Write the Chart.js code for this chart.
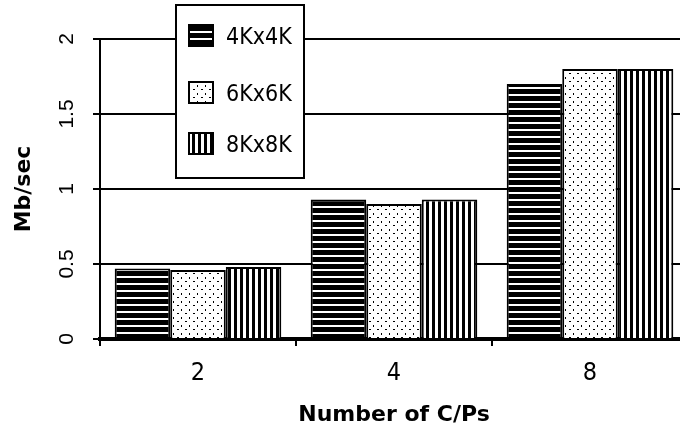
<!DOCTYPE html>
<html>
<head>
<meta charset="utf-8">
<title>Mb/sec by number of C/Ps</title>
<script src="https://cdn.jsdelivr.net/npm/chart.js@4/dist/chart.umd.min.js"></script>
<style>
    html, body { margin: 0; padding: 0; background: #fff; overflow: hidden; }
    #wrap { width: 680px; height: 433px; overflow: hidden; }
</style>
</head>
<body>
<div id="wrap"><canvas id="chart" width="700" height="433"></canvas></div>
<script>
// Data
const categories = ['2', '4', '8'];
const seriesNames = ['4Kx4K', '6Kx6K', '8Kx8K'];
const values4K = [0.47, 0.93, 1.70];
const values6K = [0.46, 0.90, 1.80];
const values8K = [0.48, 0.93, 1.80];
const yTicks = [0, 0.5, 1, 1.5, 2];
const xTitle = 'Number of C/Ps';
const yTitle = 'Mb/sec';

// Fill patterns (black & white hatching)
function makePattern(kind) {
    const c = document.createElement('canvas');
    const ctx = c.getContext('2d');
    if (kind === 'horiz') {
        c.width = 8; c.height = 7;
        ctx.fillStyle = '#000';
        ctx.fillRect(0, 0, 8, 7);
        ctx.fillStyle = '#fff';
        ctx.fillRect(0, 3, 8, 2);
    } else if (kind === 'vert') {
        c.width = 6; c.height = 6;
        ctx.fillStyle = '#000';
        ctx.fillRect(0, 0, 6, 6);
        ctx.fillStyle = '#fff';
        ctx.fillRect(3, 0, 3, 6);
    } else {
        c.width = 8; c.height = 8;
        ctx.fillStyle = '#fff';
        ctx.fillRect(0, 0, 8, 8);
        ctx.fillStyle = '#000';
        ctx.fillRect(1, 1, 2, 1);
        ctx.fillRect(5, 5, 1, 2);
    }
    return document.createElement('canvas').getContext('2d').createPattern(c, 'repeat');
}

const fills = [makePattern('horiz'), makePattern('dots'), makePattern('vert')];
const seriesValues = [values4K, values6K, values8K];

const tickFont = { family: '"Liberation Sans", Arial, sans-serif', size: 21 };
const xTickFont = { family: '"Liberation Sans Narrow", "DejaVu Sans Condensed", "Liberation Sans", sans-serif', size: 25 };
const titleFont = { family: '"DejaVu Sans", sans-serif', size: 22, weight: 'bold' };

// Boxed legend drawn on top of the plot
const boxLegend = {
    id: 'boxLegend',
    afterDraw(chart) {
        const ctx = chart.ctx;
        ctx.save();
        ctx.fillStyle = '#fff';
        ctx.fillRect(176, 5, 128, 173);
        ctx.lineWidth = 2;
        ctx.strokeStyle = '#000';
        ctx.strokeRect(176, 5, 128, 173);
        const rows = [35, 92, 143];
        seriesNames.forEach(function(name, i) {
            ctx.fillStyle = fills[i];
            ctx.fillRect(189, rows[i] - 10, 24, 21);
            ctx.lineWidth = 2;
            ctx.strokeStyle = '#000';
            ctx.strokeRect(189, rows[i] - 10, 24, 21);
            ctx.fillStyle = '#000';
            ctx.font = '23px "Liberation Sans Narrow", "DejaVu Sans Condensed", "Liberation Sans", sans-serif';
            ctx.textAlign = 'left';
            ctx.textBaseline = 'middle';
            ctx.fillText(name, 226, rows[i] + 3);
        });
        ctx.restore();
    }
};

new Chart(document.getElementById('chart'), {
    type: 'bar',
    data: {
        labels: categories,
        datasets: seriesNames.map(function(name, i) {
            return {
                label: name,
                data: seriesValues[i],
                backgroundColor: fills[i],
                borderColor: '#000',
                borderWidth: 2,
                categoryPercentage: 0.85,
                barPercentage: 1.0
            };
        })
    },
    options: {
        responsive: false,
        animation: false,
        devicePixelRatio: 1,
        layout: { padding: { top: 39, right: 12, left: 0, bottom: 0 } },
        plugins: {
            legend: { display: false },
            tooltip: { enabled: false }
        },
        scales: {
            x: {
                afterFit: function(scale) { scale.height = 94; },
                grid: {
                    drawOnChartArea: false,
                    drawTicks: true,
                    tickLength: 7,
                    color: '#000',
                    lineWidth: 2
                },
                border: { display: true, color: '#000', width: 4 },
                ticks: { color: '#000', font: xTickFont, padding: 12 },
                title: {
                    display: true,
                    text: xTitle,
                    color: '#000',
                    font: titleFont,
                    padding: { top: 4, bottom: 5 }
                }
            },
            y: {
                min: 0,
                max: 2,
                afterFit: function(scale) { scale.width = 100; },
                afterBuildTicks: function(scale) {
                    scale.ticks = yTicks.map(function(v) { return { value: v }; });
                },
                grid: {
                    color: '#000',
                    lineWidth: 2,
                    drawTicks: true,
                    tickLength: 7
                },
                border: { display: true, color: '#000', width: 2 },
                ticks: {
                    color: '#000',
                    font: tickFont,
                    minRotation: 90,
                    maxRotation: 90,
                    crossAlign: 'center',
                    padding: 11,
                    callback: function(value) { return String(value); }
                },
                title: {
                    display: true,
                    text: yTitle,
                    color: '#000',
                    font: titleFont,
                    padding: { top: 11, bottom: 0 }
                }
            }
        }
    },
    plugins: [boxLegend]
});
</script>
</body>
</html>
